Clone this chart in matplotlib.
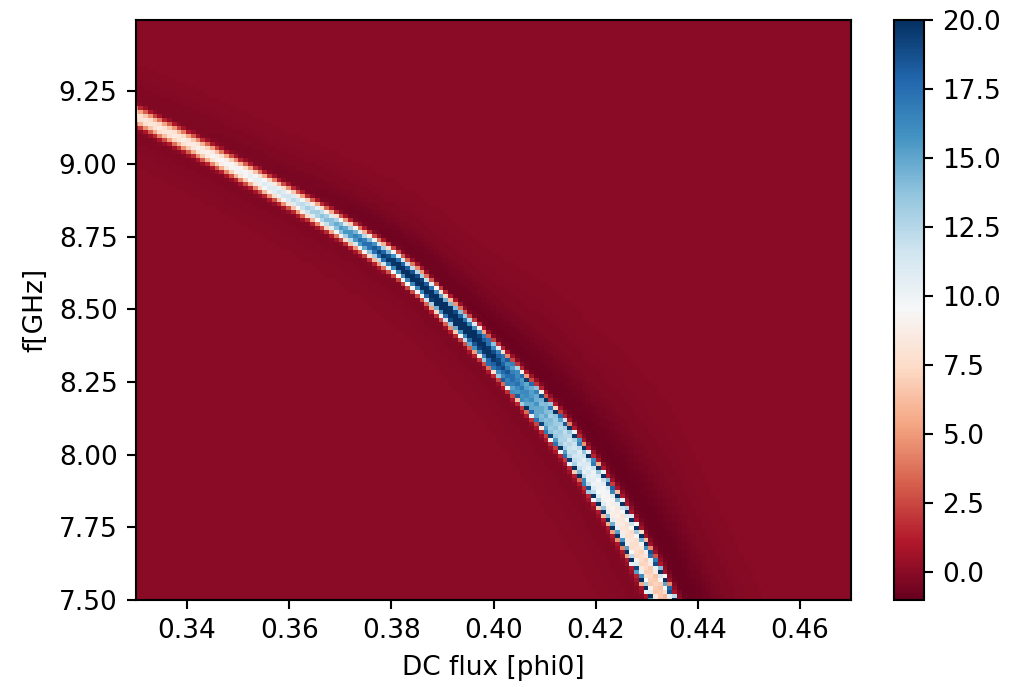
"""DC flux vs frequency map, ridge readings taken off the reference picture"""
import matplotlib
matplotlib.use('Agg')
import matplotlib.pyplot as plt
import numpy as np

# Readings along the ridge. The cells themselves are NOT individually read:
# they are rebuilt below from these readings, so the map is an approximation.
ridge_flux = [0.3298, 0.3400, 0.3521, 0.3613, 0.3687, 0.3762, 0.3810, 0.3860, 0.3913,
              0.3968, 0.4024, 0.4089, 0.4147, 0.4206, 0.4259, 0.4323, 0.4345]
ridge_freq = [9.167, 9.075, 8.960, 8.871, 8.796, 8.713, 8.655, 8.583, 8.490,
              8.395, 8.290, 8.163, 8.040, 7.890, 7.745, 7.535, 7.455]
core_flux = [0.33, 0.34, 0.352, 0.362, 0.368, 0.376, 0.382, 0.392, 0.399, 0.403, 0.409, 0.415, 0.42, 0.426, 0.435]
core_level = [8.3, 8.8, 10.3, 12.5, 14.5, 18.5, 21.5, 23.0, 21.5, 18.5, 15.5, 12.5, 10.5, 8.3, 6.3]
width_flux = [0.33, 0.36, 0.38, 0.40, 0.41, 0.42, 0.435]
half_width = [0.026, 0.028, 0.032, 0.040, 0.050, 0.058, 0.078]
horn_flux = [0.33, 0.39, 0.40, 0.41, 0.42, 0.435]
horn_level = [0.0, 0.0, 8.0, 14.0, 18.0, 21.0]
tail_flux = [0.33, 0.36, 0.38, 0.42, 0.435]
tail_up = [0.3, 0.5, 0.75, 0.9, 0.95]

profile_pos = [0.0, 0.5, 1.0, 1.4, 1.9]
profile_core = [1.0, 0.88, 0.52, 0.15, 0.0]
horn_pos = [0.4, 0.8, 1.05, 1.35]
horn_shape = [0.0, 0.3, 1.0, 0.0]

BACKGROUND = 0.05
TAIL_DOWN = 0.25
TAIL_WIDTH = 0.045

flux = np.linspace(0.33, 0.47, 151)
freq = np.linspace(7.5, 9.495, 146)
X, Y = np.meshgrid(flux, freq)

centre = np.interp(X, ridge_flux, ridge_freq)
# ridge leaves the frame at the bottom, carry on with the last slope
last_slope = (ridge_freq[-1] - ridge_freq[-2]) / (ridge_flux[-1] - ridge_flux[-2])
past = X > ridge_flux[-1]
centre[past] = ridge_freq[-1] + last_slope * (X[past] - ridge_flux[-1])

hw = np.interp(X, width_flux, half_width)
u = np.abs(Y - centre) / hw
Z = np.interp(X, core_flux, core_level) * np.interp(u, profile_pos, profile_core)
Z = Z + np.interp(X, horn_flux, horn_level) * np.interp(u, horn_pos, horn_shape)

# darker halo, stronger on the high frequency side
edge = np.maximum(u - 1.2, 0) * hw / (TAIL_WIDTH * hw / 0.03)
strength = np.where(Y > centre, np.interp(X, tail_flux, tail_up), TAIL_DOWN)
Z = Z + BACKGROUND - strength * edge * np.exp(1 - edge)

W, H = 1028, 687
DPI = 190
fig = plt.figure(figsize=(W / DPI, H / DPI), dpi=DPI)
ax = fig.add_axes([136 / W, (H - 600) / H, 715 / W, 580 / H])
cax = fig.add_axes([894 / W, (H - 600) / H, 30 / W, 580 / H])

mesh = ax.pcolormesh(X, Y, Z, cmap='RdBu', vmin=-1, vmax=20, shading='nearest')
ax.set_xlim(0.33, 0.47)
ax.set_ylim(7.5, 9.495)
ax.set_xticks([0.34, 0.36, 0.38, 0.40, 0.42, 0.44, 0.46])
ax.set_yticks([7.5, 7.75, 8.0, 8.25, 8.5, 8.75, 9.0, 9.25])
ax.set_xlabel('DC flux [phi0]')
ax.set_ylabel('f[GHz]')

cbar = fig.colorbar(mesh, cax=cax)
cbar.set_ticks([0, 2.5, 5, 7.5, 10, 12.5, 15, 17.5, 20])

fig.savefig('out.png', dpi=DPI)
